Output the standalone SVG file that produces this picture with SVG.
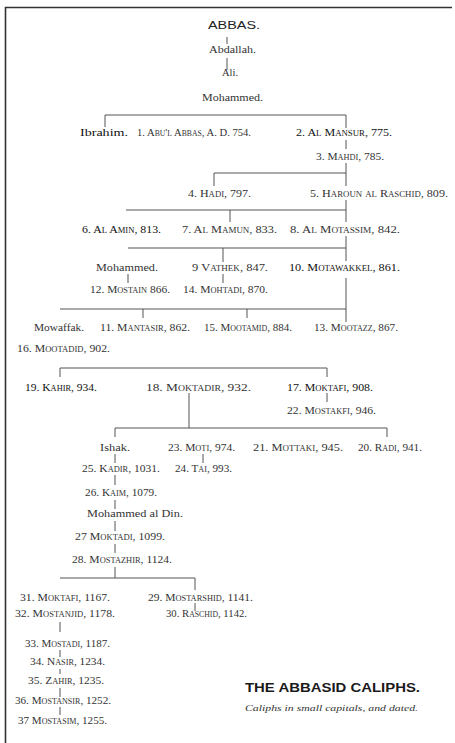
<svg xmlns="http://www.w3.org/2000/svg" width="455" height="743" viewBox="0 0 455 743">
<style>
.n{font-family:"Liberation Serif","Times New Roman",serif;font-size:11px;fill:#333;font-variant:small-caps}
.p{font-family:"Liberation Serif","Times New Roman",serif;font-size:11px;fill:#333}
.b{fill:#111}
.c path{fill:none;stroke:#555;stroke-width:1}
.t{font-family:"Liberation Sans",Arial,sans-serif;font-size:12.5px;font-weight:bold;fill:#1a1a1a}
.s{font-family:"Liberation Serif","Times New Roman",serif;font-size:9px;font-style:italic;fill:#333}
</style>
<rect width="455" height="743" fill="#fff"/>
<path d="M5.5,743 V7.5 H452" fill="none" stroke="#333" stroke-width="1.6"/>
<g class="c" id="connectors">
<path d="M227,37 V44"/>
<path d="M227,58 V70"/>
<path d="M105,127 V115 H346 V128"/>
<path d="M346,140 V149"/>
<path d="M346,163 V186 M214,186 V173 H346"/>
<path d="M346,200 V222 M126,210 H346 M230,210 V222"/>
<path d="M346,236 V261 M128,248 H346 M223,248 V262"/>
<path d="M128,274 V283 M223,274 V283"/>
<path d="M346,278 V322 M60,309 H346 M143,309 V318 M247,309 V318"/>
<path d="M60,377 V368 H327 V377"/>
<path d="M189,393 V428 M115,437 V428 H387 V437"/>
<path d="M327,393 V402"/>
<path d="M115,454 V463 M203,454 V463"/>
<path d="M115,475 V485"/>
<path d="M115,500 V509"/>
<path d="M115,521 V531"/>
<path d="M115,544 V553"/>
<path d="M115,567 V578 M60,578 H195 V590"/>
<path d="M195,603 V611"/>
<path d="M60,622 V632"/>
<path d="M60,650 V657"/>
<path d="M60,669 V674"/>
<path d="M60,688 V697"/>
<path d="M60,707 V715"/>
</g>
<g id="abbas"><text class="t" style="font-size:10px;font-weight:normal;fill:#222" x="208" y="29" textLength="52" lengthAdjust="spacingAndGlyphs">ABBAS.</text></g>
<g id="abdallah"><text class="p" x="209" y="53" textLength="47" lengthAdjust="spacingAndGlyphs">Abdallah.</text></g>
<g id="ali"><text class="p" x="222" y="76" textLength="16" lengthAdjust="spacingAndGlyphs">Ali.</text></g>
<g id="mohammed1"><text class="p" x="202" y="101" textLength="61" lengthAdjust="spacingAndGlyphs">Mohammed.</text></g>
<g id="ibrahim"><text class="p b" x="80" y="136" textLength="48" lengthAdjust="spacingAndGlyphs">Ibrahim.</text></g>
<g id="c1"><text class="n" x="137" y="136" textLength="114" lengthAdjust="spacingAndGlyphs">1. Abu'l Abbas, A. D. 754.</text></g>
<g id="c2"><text class="n b" x="296" y="136" textLength="96" lengthAdjust="spacingAndGlyphs">2. Al Mansur, 775.</text></g>
<g id="c3"><text class="n" x="316" y="160" textLength="68" lengthAdjust="spacingAndGlyphs">3. Mahdi, 785.</text></g>
<g id="c4"><text class="n" x="188" y="197" textLength="63" lengthAdjust="spacingAndGlyphs">4. Hadi, 797.</text></g>
<g id="c5"><text class="n" x="310" y="197" textLength="138" lengthAdjust="spacingAndGlyphs">5. Haroun al Raschid, 809.</text></g>
<g id="c6"><text class="n b" x="82" y="233" textLength="79" lengthAdjust="spacingAndGlyphs">6. Al Amin, 813.</text></g>
<g id="c7"><text class="n" x="182" y="233" textLength="95" lengthAdjust="spacingAndGlyphs">7. Al Mamun, 833.</text></g>
<g id="c8"><text class="n" x="290" y="233" textLength="110" lengthAdjust="spacingAndGlyphs">8. Al Motassim, 842.</text></g>
<g id="mohammed2"><text class="p" x="96" y="271" textLength="62" lengthAdjust="spacingAndGlyphs">Mohammed.</text></g>
<g id="c9"><text class="n" x="192" y="271" textLength="76" lengthAdjust="spacingAndGlyphs">9 Vathek, 847.</text></g>
<g id="c10"><text class="n b" x="289" y="271" textLength="111" lengthAdjust="spacingAndGlyphs">10. Motawakkel, 861.</text></g>
<g id="c12"><text class="n" x="90" y="293" textLength="80" lengthAdjust="spacingAndGlyphs">12. Mostain 866.</text></g>
<g id="c14"><text class="n" x="183" y="293" textLength="85" lengthAdjust="spacingAndGlyphs">14. Mohtadi, 870.</text></g>
<g id="mowaffak"><text class="p" x="34" y="331" textLength="50" lengthAdjust="spacingAndGlyphs">Mowaffak.</text></g>
<g id="c11"><text class="n" x="100" y="331" textLength="90" lengthAdjust="spacingAndGlyphs">11. Mantasir, 862.</text></g>
<g id="c15"><text class="n" x="204" y="331" textLength="88" lengthAdjust="spacingAndGlyphs">15. Mootamid, 884.</text></g>
<g id="c13"><text class="n" x="314" y="331" textLength="84" lengthAdjust="spacingAndGlyphs">13. Mootazz, 867.</text></g>
<g id="c16"><text class="n" x="17" y="352" textLength="93" lengthAdjust="spacingAndGlyphs">16. Mootadid, 902.</text></g>
<g id="c19"><text class="n b" x="25" y="391" textLength="72" lengthAdjust="spacingAndGlyphs">19. Kahir, 934.</text></g>
<g id="c18"><text class="n" x="146" y="391" textLength="105" lengthAdjust="spacingAndGlyphs">18. Moktadir, 932.</text></g>
<g id="c17"><text class="n b" x="287" y="391" textLength="86" lengthAdjust="spacingAndGlyphs">17. Moktafi, 908.</text></g>
<g id="c22"><text class="n" x="287" y="414" textLength="89" lengthAdjust="spacingAndGlyphs">22. Mostakfi, 946.</text></g>
<g id="ishak"><text class="p" x="100" y="451" textLength="30" lengthAdjust="spacingAndGlyphs">Ishak.</text></g>
<g id="c23"><text class="n" x="168" y="451" textLength="67" lengthAdjust="spacingAndGlyphs">23. Moti, 974.</text></g>
<g id="c21"><text class="n" x="253" y="451" textLength="90" lengthAdjust="spacingAndGlyphs">21. Mottaki, 945.</text></g>
<g id="c20"><text class="n" x="358" y="451" textLength="64" lengthAdjust="spacingAndGlyphs">20. Radi, 941.</text></g>
<g id="c25"><text class="n" x="82" y="472" textLength="78" lengthAdjust="spacingAndGlyphs">25. Kadir, 1031.</text></g>
<g id="c24"><text class="n" x="175" y="472" textLength="57" lengthAdjust="spacingAndGlyphs">24. Tai, 993.</text></g>
<g id="c26"><text class="n" x="85" y="496" textLength="72" lengthAdjust="spacingAndGlyphs">26. Kaim, 1079.</text></g>
<g id="mohammedaldin"><text class="p" x="87" y="517" textLength="96" lengthAdjust="spacingAndGlyphs">Mohammed al Din.</text></g>
<g id="c27"><text class="n" x="75" y="540" textLength="90" lengthAdjust="spacingAndGlyphs">27 Moktadi, 1099.</text></g>
<g id="c28"><text class="n" x="72" y="563" textLength="100" lengthAdjust="spacingAndGlyphs">28. Mostazhir, 1124.</text></g>
<g id="c31"><text class="n" x="20" y="601" textLength="90" lengthAdjust="spacingAndGlyphs">31. Moktafi, 1167.</text></g>
<g id="c29"><text class="n" x="148" y="601" textLength="105" lengthAdjust="spacingAndGlyphs">29. Mostarshid, 1141.</text></g>
<g id="c32"><text class="n" x="15" y="617" textLength="100" lengthAdjust="spacingAndGlyphs">32. Mostanjid, 1178.</text></g>
<g id="c30"><text class="n" x="166" y="617" textLength="81" lengthAdjust="spacingAndGlyphs">30. Raschid, 1142.</text></g>
<g id="c33"><text class="n" x="25" y="647" textLength="85" lengthAdjust="spacingAndGlyphs">33. Mostadi, 1187.</text></g>
<g id="c34"><text class="n" x="30" y="665" textLength="75" lengthAdjust="spacingAndGlyphs">34. Nasir, 1234.</text></g>
<g id="c35"><text class="n" x="28" y="684" textLength="76" lengthAdjust="spacingAndGlyphs">35. Zahir, 1235.</text></g>
<g id="c36"><text class="n" x="15" y="704" textLength="96" lengthAdjust="spacingAndGlyphs">36. Mostansir, 1252.</text></g>
<g id="c37"><text class="n" x="18" y="724" textLength="89" lengthAdjust="spacingAndGlyphs">37 Mostasim, 1255.</text></g>
<g id="title"><text class="t" x="245" y="692" textLength="175" lengthAdjust="spacingAndGlyphs">THE ABBASID CALIPHS.</text>
<text class="s" x="245" y="711" textLength="173" lengthAdjust="spacingAndGlyphs">Caliphs in small capitals, and dated.</text></g>
</svg>
